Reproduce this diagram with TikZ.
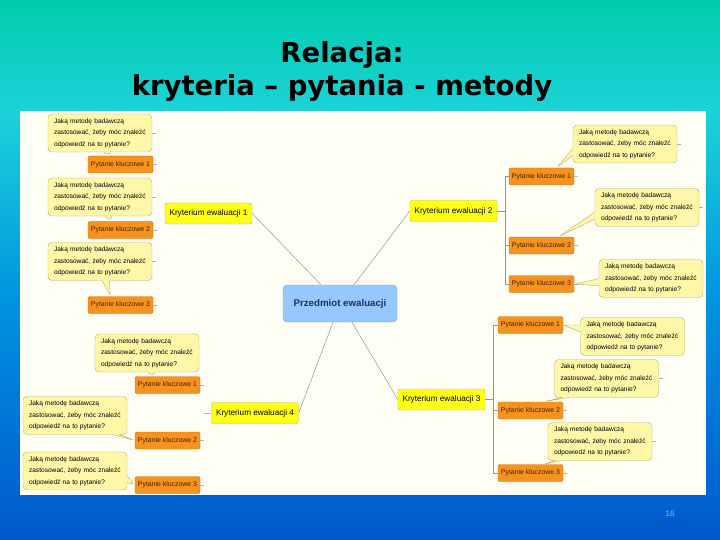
\documentclass[tikz,border=0pt]{standalone}
\usepackage{fontspec}
\setmainfont{Liberation Sans}
\newfontfamily\titlefont{DejaVu Sans}
\usetikzlibrary{shapes.callouts,calc}

\definecolor{bgtop}{RGB}{0,205,172}
\definecolor{bgcyan}{RGB}{28,210,216}
\definecolor{bgmid}{RGB}{0,148,224}
\definecolor{bgbot}{RGB}{0,88,204}
\definecolor{panel}{RGB}{255,254,245}
\definecolor{centfill}{RGB}{150,200,255}
\definecolor{centline}{RGB}{120,165,225}
\definecolor{centtext}{RGB}{30,50,90}
\definecolor{kritfill}{RGB}{255,255,20}
\definecolor{kritline}{RGB}{190,185,70}
\definecolor{pytfill}{RGB}{245,146,32}
\definecolor{pytline}{RGB}{210,115,20}
\definecolor{pyttext}{RGB}{70,35,0}
\definecolor{metfill}{RGB}{255,247,168}
\definecolor{metline}{RGB}{185,170,115}
\definecolor{linkgray}{RGB}{150,150,150}
\definecolor{pagenum}{RGB}{150,185,235}

% path fills the 25bp--75bp band of the shading
\pgfdeclareverticalshading{bgshade}{100bp}{color(0bp)=(bgbot); color(25bp)=(bgbot); color(47.5bp)=(bgmid); color(64.5bp)=(bgcyan); color(75bp)=(bgtop); color(100bp)=(bgtop)}

\tikzset{
  cent/.style={draw=centline, fill=centfill, rounded corners=4pt, minimum width=114pt, minimum height=37pt, font=\bfseries\fontsize{9.7}{11}\selectfont, text=centtext},
  krit/.style={draw=kritline, fill=kritfill, rounded corners=2pt, minimum width=87pt, minimum height=21pt, inner sep=1pt, font=\fontsize{8.2}{10}\selectfont},
  pyt/.style={draw=pytline, fill=pytfill, rounded corners=2pt, minimum width=65pt, minimum height=17pt, inner sep=1pt, font=\fontsize{6.9}{8}\selectfont, text=pyttext},
  metoda/.style={rectangle callout, draw=metline, fill=metfill, rounded corners=4pt, callout pointer width=7pt, minimum width=104pt, minimum height=38pt, inner sep=1pt, text width=92pt, align=left, font=\fontsize{6.6}{11.5}\selectfont},
  link/.style={draw=linkgray, line width=0.5pt},
  stub/.style={draw=linkgray!70, line width=0.5pt},
}

\newcommand{\metodatxt}{Jaką metodę badawczą\\zastosować, żeby móc znaleźć\\odpowiedź na to pytanie?}

\begin{document}
\begin{tikzpicture}[x=1pt,y=-1pt]
  \useasboundingbox (0,0) rectangle (720,540);
  % Background
  \shade[shading=bgshade] (0,0) rectangle (720,540);
  \fill[panel] (20,111) rectangle (706,495);
  \node[font=\titlefont\bfseries\fontsize{27.5}{33}\selectfont, align=center] (title) at (342,72) {Relacja:\\kryteria – pytania - metody};
  \node[font=\fontsize{8}{9}\selectfont, text=pagenum] (page) at (670,514) {16};

  % Centre and criteria
  \node[cent] (cent) at (340,303.5) {Przedmiot ewaluacji};
  \node[krit] (k1) at (208.5,213.5) {Kryterium ewaluacji 1};
  \node[krit] (k2) at (453.5,211) {Kryterium ewaluacji 2};
  \node[krit] (k3) at (441.5,399.5) {Kryterium ewaluacji 3};
  \node[krit] (k4) at (255,413) {Kryterium ewaluacji 4};

  % Key questions
  \node[pyt] (k1p1) at (120.5,164.5) {Pytanie kluczowe 1};
  \node[pyt] (k1p2) at (120.5,230) {Pytanie kluczowe 2};
  \node[pyt] (k1p3) at (120.5,305) {Pytanie kluczowe 3};
  \node[pyt] (k2p1) at (541.5,176.5) {Pytanie kluczowe 1};
  \node[pyt] (k2p2) at (541.5,245.5) {Pytanie kluczowe 2};
  \node[pyt] (k2p3) at (541.5,284) {Pytanie kluczowe 3};
  \node[pyt] (k3p1) at (530.5,325) {Pytanie kluczowe 1};
  \node[pyt] (k3p2) at (530.5,410.5) {Pytanie kluczowe 2};
  \node[pyt] (k3p3) at (530.5,473) {Pytanie kluczowe 3};
  \node[pyt] (k4p1) at (167.5,385) {Pytanie kluczowe 1};
  \node[pyt] (k4p2) at (167.5,440.5) {Pytanie kluczowe 2};
  \node[pyt] (k4p3) at (167.5,485) {Pytanie kluczowe 3};

  % Methods
  \node[metoda, callout absolute pointer={($(k1p1.north)+(-12,0)$)}] (k1m1) at (100,133) {\metodatxt};
  \node[metoda, callout absolute pointer={($(k1p2.north)+(-10,0)$)}] (k1m2) at (100,197) {\metodatxt};
  \node[metoda, callout absolute pointer={($(k1p3.north)+(-10,0)$)}] (k1m3) at (100,261.5) {\metodatxt};
  \node[metoda, callout absolute pointer={($(k2p1.north)+(15,0)$)}] (k2m1) at (625,144) {\metodatxt};
  \node[metoda, callout absolute pointer={($(k2p2.north)+(17,0)$)}] (k2m2) at (647,207.5) {\metodatxt};
  \node[metoda, callout absolute pointer={(k2p3.east)}] (k2m3) at (651,278.5) {\metodatxt};
  \node[metoda, callout absolute pointer={(k3p1.east)}] (k3m1) at (632.5,336.5) {\metodatxt};
  \node[metoda, callout absolute pointer={($(k3p2.north)+(13,0)$)}] (k3m2) at (606.5,378.5) {\metodatxt};
  \node[metoda, callout absolute pointer={($(k3p3.north)+(13,0)$)}] (k3m3) at (600,441.5) {\metodatxt};
  \node[metoda, callout absolute pointer={($(k4p1.north)+(-15,0)$)}] (k4m1) at (147,353) {\metodatxt};
  \node[metoda, callout absolute pointer={(k4p2.west)}] (k4m2) at (75,415.5) {\metodatxt};
  \node[metoda, callout absolute pointer={(k4p3.west)}] (k4m3) at (75,471) {\metodatxt};

  % Links
  \draw[link] (k1.east) -- ($(cent.north)+(-19,0)$);
  \draw[link] (k2.west) -- ($(cent.north)+(14,0)$);
  \draw[link] (k3.west) -- ($(cent.south)+(12,0)$);
  \draw[link] (k4.east) -- ($(cent.south)+(-7,0)$);
  \coordinate (k2bus) at (505,211);
  \coordinate (k3bus) at (493.5,399.5);
  \draw[link] (k2.east) -- (k2bus);
  \draw[link] (k3.east) -- (k3bus);
  \foreach \i in {1,2,3} {
    \draw[link] (k2bus) |- (k2p\i.west);
    \draw[link] (k3bus) |- (k3p\i.west);
  }
  \draw[stub] (k4.west) -- ++(-7,0);
  \foreach \n in {k1p1,k1p2,k1p3,k2p1,k2p2,k2p3,k3p1,k3p2,k3p3,k4p1,k4p2,k4p3,
                  k1m1,k1m2,k1m3,k2m1,k2m2,k3m2,k3m3}
    \draw[stub] (\n.east) -- ++(4,0);
\end{tikzpicture}
\end{document}
